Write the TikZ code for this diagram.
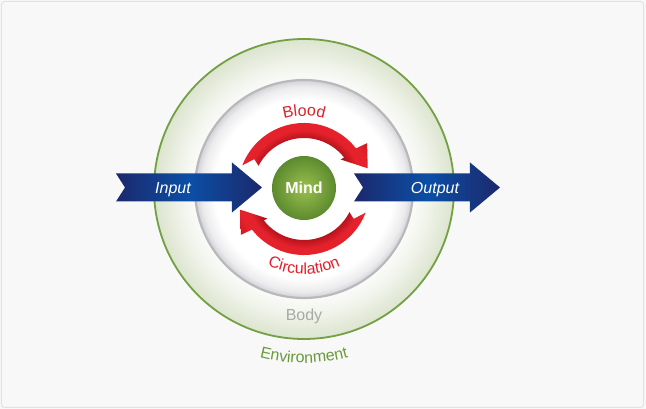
\documentclass[tikz,border=0pt]{standalone}
\usepackage{fontspec}
\setmainfont{Liberation Sans}
\usetikzlibrary{decorations.text}
\definecolor{bgc}{HTML}{F8F8F8}
\definecolor{bordc}{HTML}{E2E2E2}
\definecolor{envgreen}{HTML}{72A042}
\definecolor{envedge}{HTML}{DCE4CE}
\definecolor{envmid}{HTML}{F0F3EA}
\definecolor{bodyline}{HTML}{B9B9BD}
\definecolor{bodyedge}{HTML}{D2D2D6}
\definecolor{bodymid}{HTML}{ECECEE}
\definecolor{mindin}{HTML}{9CC04E}
\definecolor{mindout}{HTML}{5C8A2E}
\definecolor{navy}{HTML}{1C286C}
\definecolor{bluemid}{HTML}{0B4FA6}
\definecolor{reddark}{HTML}{B0111B}
\definecolor{redbright}{HTML}{E5222B}
\definecolor{redmid}{HTML}{CC1720}
\definecolor{bloodred}{HTML}{E2202A}
\definecolor{bodytext}{HTML}{A8A8A8}
\definecolor{envtext}{HTML}{6A9A3C}
\pgfdeclareradialshading{envshade}{\pgfpointorigin}{color(0bp)=(white); color(17bp)=(white); color(21bp)=(envmid); color(25bp)=(envedge); color(50bp)=(envedge)}
\pgfdeclareradialshading{bodyshade}{\pgfpointorigin}{color(0bp)=(white); color(20.5bp)=(white); color(23.5bp)=(bodymid); color(25bp)=(bodyedge); color(50bp)=(bodyedge)}
\pgfdeclareradialshading{mindshade}{\pgfpointorigin}{color(0bp)=(mindin); color(25bp)=(mindout); color(50bp)=(mindout)}
\pgfdeclareradialshading{redtube}{\pgfpointorigin}{color(0bp)=(reddark); color(15.5bp)=(reddark); color(18.5bp)=(redbright); color(21bp)=(redbright); color(25bp)=(redmid); color(50bp)=(redmid)}
\begin{document}
\begin{tikzpicture}[x=1pt,y=1pt,
  envc/.style={circle, minimum size=300pt, inner sep=0pt, draw=envgreen, line width=1.8pt, shade, shading=envshade},
  bodyc/.style={circle, minimum size=218pt, inner sep=0pt, draw=bodyline, line width=2.2pt, shade, shading=bodyshade},
  mindc/.style={circle, minimum size=64pt, inner sep=0pt, shade, shading=mindshade},
  bluearrow/.style={left color=navy, right color=navy, middle color=bluemid},
  lbl/.style={font=\fontsize{16pt}{19pt}\selectfont, inner sep=0pt},
  arrowlbl/.style={lbl, text=white, font=\fontsize{16pt}{19pt}\selectfont\itshape, anchor=base}]
\useasboundingbox (-304,-220) rectangle (342,189);
\fill[bgc] (-304,-220) rectangle (342,189);
\draw[bordc, line width=1pt, rounded corners=3pt] (-302.5,-218.5) rectangle (339.5,187.5);
% circles
\node[envc] (env) at (0,0) {};
\node[bodyc] (body) at (0,0) {};
% red circulation arrows
\foreach \r in {0,180}{
  \begin{scope}[rotate=\r]
    \clip (159:66pt) arc[start angle=159,end angle=38,radius=66pt] -- (36:78pt) -- (18:67pt) -- (39:47pt) -- (38:51pt) arc[start angle=38,end angle=153,radius=51pt] -- (149:58pt) -- cycle;
    \shade[shading=redtube] (0,0) circle (80pt);
  \end{scope}
}
% blue arrows
\shade[bluearrow] (-188,15.5) -- (-72,15.5) -- (-72,26.5) -- (-42,1.5) -- (-72,-23.5) -- (-72,-12.5) -- (-188,-12.5) -- (-179,1.5) -- cycle;
\shade[bluearrow] (50,15.5) -- (166,15.5) -- (166,26.5) -- (196,1.5) -- (166,-23.5) -- (166,-12.5) -- (50,-12.5) -- (59,1.5) -- cycle;
% mind
\node[mindc] (mind) at (0,1) {};
\node[lbl, text=white, font=\fontsize{16pt}{19pt}\selectfont\bfseries, anchor=base] (mindtext) at (0,-5) {Mind};
\node[arrowlbl] (input) at (-131,-5) {Input};
\node[arrowlbl] (output) at (131,-5) {Output};
\node[lbl, text=bodytext, anchor=base] (bodytext) at (0,-132) {Body};
% curved labels
\path[decorate, decoration={text along path, text align=center, text={|\fontsize{16pt}{19pt}\selectfont\color{bloodred}|Blood}}] (130:73pt) arc[start angle=130, end angle=50, radius=73pt];
\path[decorate, decoration={text along path, text align=center, text={|\fontsize{16pt}{19pt}\selectfont\color{bloodred}|Circulation}}] (220:85pt) arc[start angle=220, end angle=320, radius=85pt];
\path[decorate, decoration={text along path, text align=center, text={|\fontsize{16pt}{19pt}\selectfont\color{envtext}|Environment}}] (240:174pt) arc[start angle=240, end angle=300, radius=174pt];
\end{tikzpicture}
\end{document}
